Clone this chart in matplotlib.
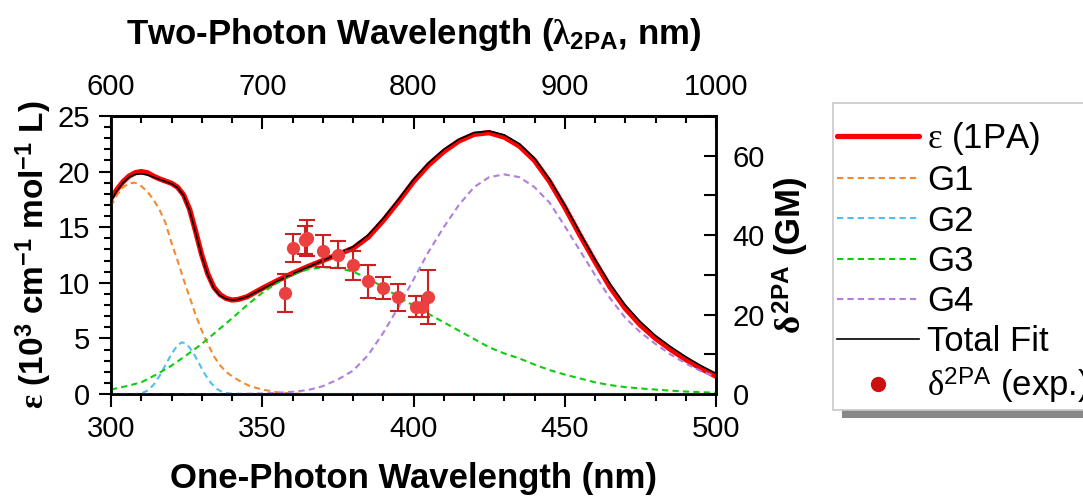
import matplotlib
matplotlib.use("Agg")
import matplotlib.pyplot as plt
from matplotlib.lines import Line2D
from matplotlib.patches import Rectangle
from matplotlib.ticker import MultipleLocator

plt.rcParams['font.family'] = ['Liberation Sans', 'DejaVu Sans']
plt.rcParams['mathtext.fontset'] = 'custom'
plt.rcParams['mathtext.rm'] = 'Liberation Sans'
plt.rcParams['mathtext.bf'] = 'Liberation Sans:bold'
plt.rcParams['mathtext.it'] = 'Liberation Serif:bold'
plt.rcParams['mathtext.cal'] = 'Liberation Serif'

# ---------------- data ----------------
wl_fit = [300, 302, 304, 306, 308, 310, 312, 314, 316, 318, 320, 322, 324, 326, 328,
          330, 332, 334, 336, 338, 340, 342, 345, 350, 355, 360, 365, 370, 375, 380,
          385, 390, 395, 400, 405, 410, 415, 420, 425, 430, 435, 440, 445, 450, 455,
          460, 465, 470, 475, 480, 485, 490, 495, 500]
eps_1pa = [17.6, 18.4, 19.1, 19.6, 19.9, 20.0, 19.9, 19.6, 19.35, 19.15, 18.95, 18.6, 17.9,
           16.6, 14.6, 12.5, 10.8, 9.6, 8.95, 8.6, 8.45, 8.5, 8.75, 9.5, 10.2, 10.85, 11.45,
           12.0, 12.55, 13.1, 14.1, 15.6, 17.3, 19.1, 20.6, 21.8, 22.75, 23.35, 23.5, 23.1,
           22.3, 21.0, 19.1, 16.8, 14.3, 11.9, 9.6, 7.7, 6.2, 5.0, 4.0, 3.1, 2.3, 1.6]
total_fit = [17.3, 18.3, 19.0, 19.5, 19.75, 19.8, 19.7, 19.5, 19.3, 19.1, 18.9, 18.55, 17.85,
             16.5, 14.5, 12.4, 10.7, 9.5, 8.85, 8.55, 8.45, 8.5, 8.75, 9.45, 10.15, 10.8, 11.4,
             12.0, 12.6, 13.25, 14.3, 15.8, 17.5, 19.3, 20.8, 22.0, 22.9, 23.5, 23.65, 23.3,
             22.5, 21.2, 19.3, 17.0, 14.5, 12.1, 9.9, 8.0, 6.5, 5.25, 4.25, 3.35, 2.55, 1.85]

wl_g1 = [300, 302, 304, 306, 308, 310, 312, 314, 316, 318, 320, 322, 324, 326, 328, 330,
         332, 334, 336, 338, 340, 343, 346, 350, 355, 360, 365, 500]
g1 = [16.9, 17.9, 18.6, 18.95, 19.0, 18.7, 18.2, 17.5, 16.6, 15.4, 13.6, 12.0, 10.3, 8.7,
      7.1, 5.7, 4.5, 3.4, 2.6, 2.0, 1.6, 1.1, 0.7, 0.4, 0.15, 0.05, 0.0, 0.0]

wl_g2 = [300, 308, 310, 312, 314, 316, 318, 320, 322, 323.5, 325, 327, 329, 331, 333, 335,
         337, 340, 345, 500]
g2 = [0.0, 0.0, 0.05, 0.3, 0.8, 1.6, 2.6, 3.6, 4.4, 4.65, 4.5, 3.8, 2.8, 1.8, 1.0, 0.45,
      0.15, 0.02, 0.0, 0.0]

wl_g3 = [300, 305, 310, 315, 320, 325, 330, 335, 340, 345, 350, 355, 360, 365, 370, 375,
         380, 385, 390, 395, 400, 405, 410, 415, 420, 425, 430, 435, 440, 445, 450, 455,
         460, 465, 470, 475, 480, 485, 490, 495, 500]
g3 = [0.4, 0.7, 1.05, 1.75, 2.55, 3.5, 4.5, 5.65, 6.8, 8.0, 9.1, 10.0, 10.75, 11.2, 11.4,
      11.35, 11.0, 10.4, 9.6, 8.75, 7.95, 7.2, 6.45, 5.7, 4.95, 4.2, 3.65, 3.2, 2.65, 2.15,
      1.75, 1.4, 1.05, 0.8, 0.62, 0.5, 0.4, 0.3, 0.22, 0.16, 0.12]

wl_g4 = [300, 340, 350, 355, 360, 365, 370, 375, 380, 385, 390, 395, 400, 405, 410, 415,
         420, 425, 430, 435, 440, 445, 450, 455, 460, 465, 470, 475, 480, 485, 490, 495, 500]
g4 = [0.0, 0.0, 0.05, 0.1, 0.2, 0.35, 0.7, 1.3, 2.1, 3.5, 5.5, 7.8, 10.3, 12.8, 15.0, 17.0,
      18.6, 19.5, 19.75, 19.5, 18.6, 17.2, 15.1, 12.9, 10.7, 8.6, 6.85, 5.55, 4.5, 3.55,
      2.75, 2.05, 1.56]

wl_2pa = [357.5, 360.1, 364.0, 364.9, 370.1, 374.9, 379.9, 385.1, 390.0, 395.0, 400.8, 402.7, 404.9]
delta_2pa = [25.4, 36.8, 38.8, 39.2, 36.1, 35.1, 32.4, 28.4, 26.6, 24.3, 22.0, 22.0, 24.4]
delta_err = [4.7, 3.5, 3.5, 4.5, 4.0, 3.4, 3.7, 4.2, 2.8, 3.5, 2.7, 2.7, 6.8]

labels = [r"$\mathcal{ε}$ (1PA)", "G1", "G2", "G3", "G4", "Total Fit",
          r"$\mathcal{δ}^{\mathrm{2PA}}$ (exp.)"]

# ---------------- figure ----------------
W, H = 1083, 496
fig = plt.figure(figsize=(W / 100, H / 100), dpi=100)
ax = fig.add_axes([111 / W, 1 - 394 / H, 605 / W, 278 / H])

c_red = '#FF0000'
c_g1 = '#F28A30'
c_g2 = '#4FC0F5'
c_g3 = '#10CC10'
c_g4 = '#B07EE0'
dash = (3, 2)

l_eps, = ax.plot(wl_fit, eps_1pa, color=c_red, lw=3.8, solid_capstyle='round', zorder=2)
l_g1, = ax.plot(wl_g1, g1, color=c_g1, lw=1.5, dashes=dash, zorder=3)
l_g2, = ax.plot(wl_g2, g2, color=c_g2, lw=1.5, dashes=dash, zorder=3)
l_g3, = ax.plot(wl_g3, g3, color=c_g3, lw=1.5, dashes=dash, zorder=3)
l_g4, = ax.plot(wl_g4, g4, color=c_g4, lw=1.5, dashes=dash, zorder=3)
l_tot, = ax.plot(wl_fit, total_fit, color='black', lw=1.2, zorder=4)

ax.set_xlim(300, 500)
ax.set_ylim(0, 25)
ax.xaxis.set_major_locator(MultipleLocator(50))
ax.xaxis.set_minor_locator(MultipleLocator(10))
ax.yaxis.set_major_locator(MultipleLocator(5))
ax.yaxis.set_minor_locator(MultipleLocator(1))
ax.tick_params(axis='both', which='both', direction='out', width=1.5, labelsize=21)
ax.tick_params(axis='both', which='major', length=9, pad=6)
ax.tick_params(axis='both', which='minor', length=5)
for s in ax.spines.values():
    s.set_linewidth(1.8)

ax.set_xlabel("One-Photon Wavelength (nm)", fontsize=25, fontweight='bold', labelpad=14)
ax.set_ylabel(r"$\mathit{ε}$ (10$^{\mathbf{3}}$ cm$^{\mathbf{-1}}$ mol$^{\mathbf{-1}}$ L)",
              fontsize=24, fontweight='bold', labelpad=3)

# top axis: two-photon wavelength
top = ax.secondary_xaxis('top', functions=(lambda x: 2 * x, lambda x: x / 2))
top.xaxis.set_major_locator(MultipleLocator(100))
top.xaxis.set_minor_locator(MultipleLocator(20))
top.tick_params(axis='x', which='both', direction='in', width=1.5, labelsize=21, pad=11)
top.tick_params(axis='x', which='major', length=9)
top.tick_params(axis='x', which='minor', length=5)
top.spines['top'].set_linewidth(1.8)
top.set_xlabel(r"Two-Photon Wavelength ($\mathit{λ}_{\mathbf{2PA}}$, nm)", fontsize=25,
               fontweight='bold', labelpad=21)

# right axis: 2PA cross section
ax2 = ax.twinx()
ax2.set_ylim(0, 70)
ax2.yaxis.set_major_locator(MultipleLocator(20))
ax2.yaxis.set_minor_locator(MultipleLocator(10))
ax2.tick_params(axis='y', which='both', direction='in', width=1.5, labelsize=21, pad=12)
ax2.tick_params(axis='y', which='major', length=9)
ax2.tick_params(axis='y', which='minor', length=9)
for s in ax2.spines.values():
    s.set_linewidth(1.8)
ax2.set_ylabel(r"$\mathit{δ}^{\mathbf{2PA}}$ (GM)", fontsize=25, fontweight='bold', labelpad=4)

ax2.errorbar(wl_2pa, delta_2pa, yerr=delta_err, fmt='o', ms=8.5, mfc='#EC4040', mec='#EC4040',
             ecolor='#CC2020', elinewidth=1.5, capsize=6, capthick=1.5, zorder=5)

# legend: frame and shadow drawn as plain rectangles in figure pixels
shadow = Rectangle((842, H - 418), 300, 307, transform=None, facecolor='#888888',
                   edgecolor='none', zorder=8)
frame = Rectangle((833, H - 410), 300, 307, transform=None, facecolor='white',
                  edgecolor='#c8c8c8', linewidth=1.2, zorder=9)
fig.add_artist(shadow)
fig.add_artist(frame)

h_dot = Line2D([], [], ls='none', marker='o', ms=10, color='#CC1010')
leg = fig.legend([l_eps, l_g1, l_g2, l_g3, l_g4, l_tot, h_dot], labels,
                 loc='upper left', bbox_to_anchor=(837 / W, 1 - 120 / H),
                 bbox_transform=fig.transFigure, borderaxespad=0, fontsize=25,
                 frameon=False, handlelength=2.35, handletextpad=0.25,
                 labelspacing=0.21, borderpad=0)
leg.set_zorder(10)

fig.savefig("out.png", dpi=100)
